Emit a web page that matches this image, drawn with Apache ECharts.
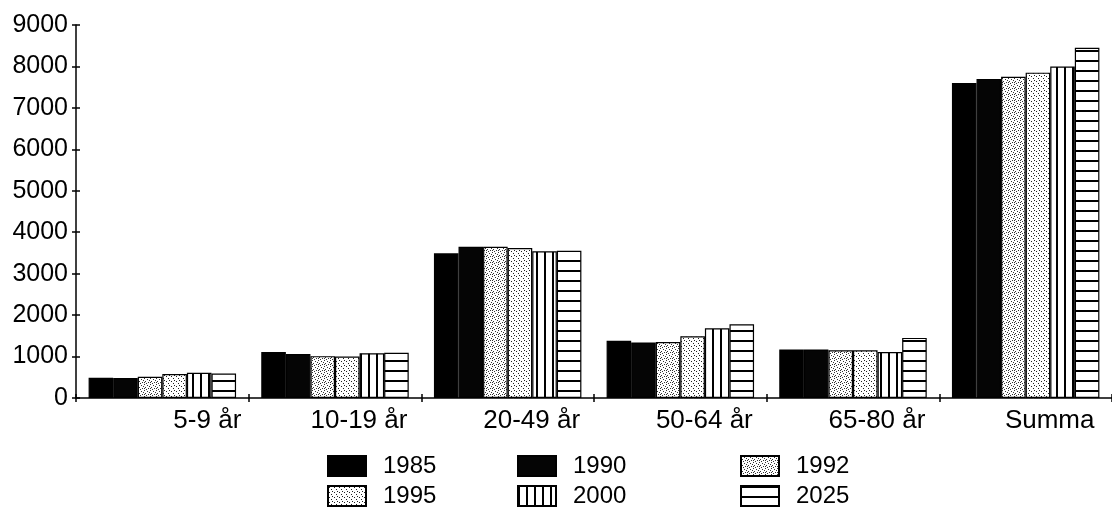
<!DOCTYPE html>
<html><head><meta charset="utf-8">
<script src="https://cdn.jsdelivr.net/npm/echarts@6/dist/echarts.min.js"></script>
<style>html,body{margin:0;padding:0;background:#fff}#c{width:1112px;height:526px}</style>
</head><body><div id="c"></div>
<script>
// ---- data ----
const categories = ['5-9 år', '10-19 år', '20-49 år', '50-64 år', '65-80 år', 'Summa'];
const years = ['1985', '1990', '1992', '1995', '2000', '2025'];
const v1985 = [490, 1110, 3490, 1380, 1170, 7600];
const v1990 = [480, 1060, 3650, 1340, 1170, 7700];
const v1992 = [510, 1010, 3650, 1350, 1150, 7750];
const v1995 = [580, 1000, 3620, 1490, 1150, 7850];
const v2000 = [610, 1080, 3540, 1680, 1110, 8000];
const v2025 = [590, 1090, 3550, 1780, 1450, 8450];
const yMin = 0, yMax = 9000, yStep = 1000;

// ---- patterns ----
function tile(w, h, draw) {
  const c = document.createElement('canvas');
  c.width = w; c.height = h;
  const g = c.getContext('2d');
  g.fillStyle = '#fff'; g.fillRect(0, 0, w, h);
  draw(g);
  return { image: c, repeat: 'repeat' };
}
const FONT = '"Liberation Sans", Arial, Helvetica, sans-serif';
const fills = {
  '1985': '#000',
  '1990': '#050505',
  '1992': tile(6, 6, g => { g.fillStyle = '#333'; [[0,0],[3,1],[1,3],[4,4],[2,5],[5,2],[0,4]].forEach(p => g.fillRect(p[0], p[1], 1, 1)); }),
  '1995': tile(5, 5, g => { g.fillStyle = '#222'; [[1,1],[3,3],[4,0]].forEach(p => g.fillRect(p[0], p[1], 1, 1)); }),
  '2000': tile(8, 8, g => { g.fillStyle = '#000'; g.fillRect(0, 0, 2, 8); }),
  '2025': tile(10, 10, g => { g.fillStyle = '#000'; g.fillRect(0, 0, 10, 2); })
};
const values = { '1985': v1985, '1990': v1990, '1992': v1992, '1995': v1995, '2000': v2000, '2025': v2025 };

const legendX = [322, 512, 735];
const legendY = [449, 479];

const chart = echarts.init(document.getElementById('c'), null, { renderer: 'canvas' });
chart.setOption({
  animation: false,
  backgroundColor: '#fff',
  grid: { left: 76, right: -4, top: 25, bottom: 128, containLabel: false },
  legend: years.map((y, i) => ({
    data: [y], left: legendX[i % 3], top: legendY[Math.floor(i / 3)],
    icon: 'rect', itemWidth: 38, itemHeight: 20, selectedMode: false,
    textStyle: { fontSize: 24, fontFamily: FONT, color: '#000', padding: [0, 0, 0, 12] }
  })),
  xAxis: [{
    type: 'category',
    data: categories.map((c, i) => i === 0 ? { value: c, textStyle: { padding: [0, 0, 0, 90] } } : c),
    axisLine: { show: true, lineStyle: { color: '#000', width: 1.5 } },
    axisTick: { show: true, length: 4, lineStyle: { color: '#000', width: 1.5 } },
    axisLabel: { fontSize: 26, fontFamily: FONT, color: '#000', margin: 10, padding: [0, 0, 0, 48] },
    splitLine: { show: false }
  }, {
    type: 'category', position: 'bottom', data: categories,
    axisLine: { show: false },
    axisTick: { show: true, inside: true, length: 4, lineStyle: { color: '#000', width: 1.5 } },
    axisLabel: { show: false }, splitLine: { show: false }
  }],
  yAxis: [{
    type: 'value', min: yMin, max: yMax, interval: yStep,
    axisLine: { show: true, lineStyle: { color: '#000', width: 1.5 } },
    axisTick: { show: true, length: 4, lineStyle: { color: '#000', width: 1.5 } },
    axisLabel: { fontSize: 25, fontFamily: FONT, color: '#000', margin: 8, formatter: v => String(v) },
    splitLine: { show: false }
  }, {
    type: 'value', position: 'left', min: yMin, max: yMax, interval: yStep,
    axisLine: { show: false },
    axisTick: { show: true, inside: true, length: 4, lineStyle: { color: '#000', width: 1.5 } },
    axisLabel: { show: false }, splitLine: { show: false }
  }],
  series: years.map(y => ({
    name: y, type: 'bar', data: values[y],
    barGap: '0%', barCategoryGap: '14.6%',
    itemStyle: { color: fills[y], borderColor: '#000', borderWidth: 1.2 }
  }))
});
</script>
</body></html>
